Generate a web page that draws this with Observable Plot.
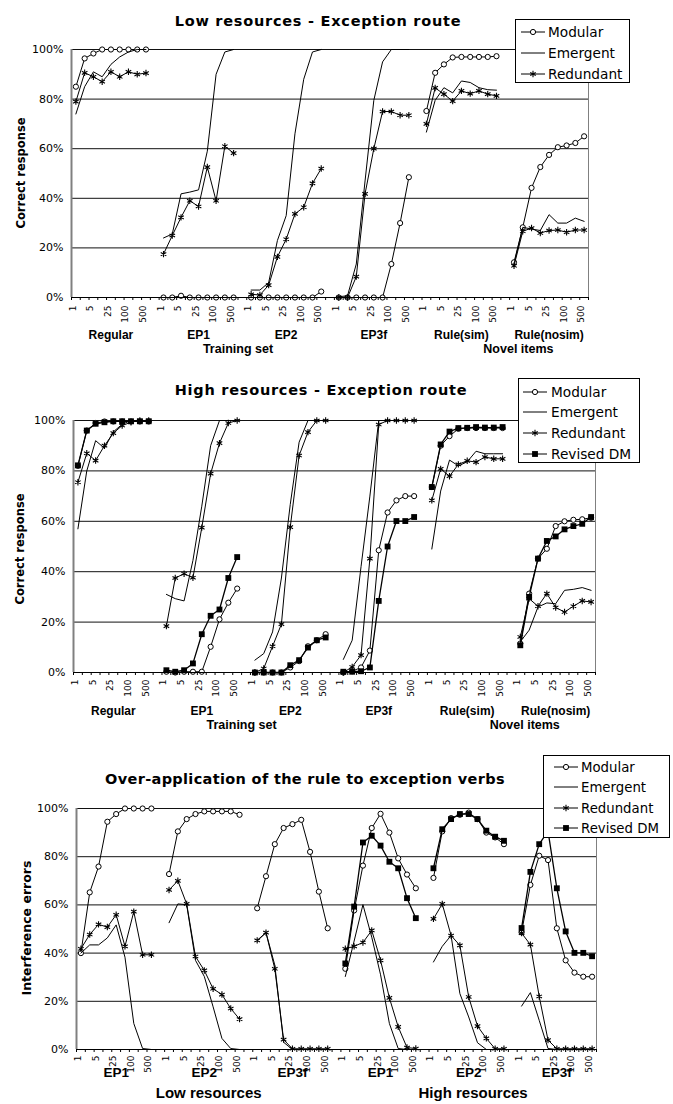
<!DOCTYPE html>
<html><head><meta charset="utf-8">
<script src="https://cdn.jsdelivr.net/npm/d3@7"></script>
<script src="https://cdn.jsdelivr.net/npm/@observablehq/plot@0.6"></script>
<style>
body{margin:0;background:#fff;}
#wrap{position:relative;width:673px;height:1104px;overflow:hidden;font-family:"DejaVu Sans",Verdana,sans-serif;color:#000;}
#wrap svg.p{position:absolute;left:0;}
.title{position:absolute;font-weight:bold;font-size:14.5px;white-space:nowrap;transform:translate(-50%,-50%);}
.ytitle{position:absolute;font-weight:bold;font-size:11.5px;white-space:nowrap;transform:translate(-50%,-50%) rotate(-90deg);}
.legend{position:absolute;}
</style></head><body><div id="wrap"></div><script>
// ---------- categories ----------
const epochs = ["1","2","5","10","25","50","100","250","500"];
const tickLabels = ["1","5","25","100","500"];
const groupsRoute = ["Regular","EP1","EP2","EP3f","Rule(sim)","Rule(nosim)"];
const supersRoute = ["Training set","Novel items"];
const groupsOver = ["EP1","EP2","EP3f","EP1","EP2","EP3f"];
const supersOver = ["Low resources","High resources"];
const seriesNames = ["Modular","Emergent","Redundant","Revised DM"];
const titles = ["Low resources - Exception route","High resources - Exception route","Over-application of the rule to exception verbs"];
const yTitles = ["Correct response","Correct response","Interference errors"];

// ---------- Panel 1: Low resources - Exception route (%) ----------
const lowModular = [85,96.4,98.4,100,100,100,100,100,100, 0,0,0.7,0,0,0,0,0,0, 0,0,0,0,0,0,0,0,2.4, 0,0,0,0,0,0,13.5,30,48.5, 75.2,90.6,94,96.8,97,97,97,97,97.3, 14.2,28.3,44.2,52.6,57.5,60.6,61.3,62.3,65];
const lowEmergent = [74,85,91,89,94,97,99,100,100, 24,25.6,41.8,42.5,43.4,59,90,99,100, 3,3,6,23,33,66,88,99,100, 0.3,0.7,13.5,47,79.5,95,100,100,100, 66.7,79.5,84.6,82.5,87.3,86.7,84.6,83.8,83.6, 13.5,28.3,27.6,27,33.4,30,30,32,30.7];
const lowRedundant = [79,90.6,89,87,91,89,91,90,90.5, 17.5,25,32.3,39,36.7,52.6,39,61,58.2, 1.3,1,5,16.4,23.5,33.7,36.4,46,52, 0,0,8.4,41.8,60,75,75,73.5,73.5, 70,84.5,82,79.2,83.3,82.2,83.3,82,81.3, 12.8,26.7,28,26,27,27.2,26.3,27.2,27.2];

// ---------- Panel 2: High resources - Exception route (%) ----------
const highModular = [82,96,99,99.6,99.6,99.6,99.6,99.6,99.6, 0.3,0,0.3,0.3,0.3,10.2,21.1,27.7,33.3, 0,0,0,0,2,4.5,10.4,12.8,15.2, 0,0.5,2,8.7,48.5,63.5,68.3,70,70, 73.6,90,93.8,96.7,97,97,97,97,97, 11.5,31.3,45.2,49.1,58.1,60,60.6,60.8,61.4];
const highEmergent = [57,80,92,89,95.5,98.5,100,100,100, 31,29.3,28.4,44.5,66,90,100,100,100, 4.9,7.5,16.1,37.5,66.7,91.4,100,100,100, 5.2,12.8,42,70,100,100,100,100,100, 49,72,84.3,82,83.6,87.8,86.8,86.8,86.8, 12.2,16.8,26,27.6,27.3,32.6,33,33.7,32.6];
const highRedundant = [75.5,87,84.1,90,95,98,99.3,100,100, 18.4,37.5,39.2,37.6,57.5,78.9,91,99,100, 0,1.6,10.4,19.2,57.7,86.1,95.4,100,100, 0,2.2,6.9,45.2,98.4,100,100,100,100, 68.3,80.8,77.9,82.6,84,83.5,85.5,84.8,84.8, 14.1,29.3,26.3,31.3,25.8,24,26.3,28.4,28];
const highRevised = [82.2,96,98.7,99.3,99.7,99.7,99.7,99.7,99.7, 0.9,0.3,0.9,3.6,15.2,22.5,25,37.5,45.8, 0,0,0,0,2.9,4.9,9.9,12.8,13.9, 0.3,0.3,0.5,2,28.4,50,60.1,60.1,61.7, 73.6,90.5,95.6,97,97.1,97.4,97.2,97.2,97.4, 10.8,30,45.2,52.2,54,56.8,58.1,59,61.7];

// ---------- Panel 3: Over-application of the rule (%) ----------
const overModular = [40,65.2,75.9,94.5,97.7,100,100,100,100, 72.8,90.5,95.6,97.7,98.8,98.8,98.8,98.8,97.4, 58.6,71.9,85.2,91.9,93.5,95.3,82,65.5,50.3, 33.5,57.7,76.3,91.9,97.8,90,79.3,72.6,66.9, 71.2,90.5,96,97.4,98.3,95.6,90,88,85.2, 48.6,68.3,80.4,78.6,50.3,37,31.9,30.2,30.2];
const overEmergent = [40,43.4,43.4,46.3,51.7,38.3,10.8,0.4,0, 52.6,60.4,60.1,37,30.3,17.7,4.6,0.4,0, 45,48.5,35,3,0,0,0,0,0, 30.3,45,60.1,46.6,31,10.8,0.4,0,0, 36.3,42.8,47.3,23.2,13.5,2.8,0,0,0, 18,23.6,12.1,0.4,0,0,0,0,0];
const overRedundant = [41.8,47.7,51.9,50.8,55.9,42.8,57.2,39.3,39.3, 66.2,70,60.4,38.6,32.8,25.2,22.8,17,12.6, 45.3,48.5,33.5,4.1,0.3,0.3,0.3,0.3,0.3, 41.8,42.8,44.4,49.4,37,21.4,9.4,0.8,0.4, 54.2,60.4,47.3,43.2,21.8,9.7,4.6,0.3,0.3, 48.3,43.5,22,3.9,0.3,0.3,0.3,0.3,0.3];
const overRevised = [null,null,null,null,null,null,null,null,null, null,null,null,null,null,null,null,null,null, null,null,null,null,null,null,null,null,null, 35.7,59.3,85.9,88.7,84.6,77.9,75.2,62.8,54.5, 75.2,91.4,95.6,97.7,97.7,95.6,90.8,88.3,86.6, 50.4,73.7,85.2,90.6,66.9,49,40.1,40.1,38.7];

// ---------- helpers ----------
const W = 673;
function toRows(name, vals) {
  const rows = [];
  vals.forEach((v, k) => {
    if (v == null) return;
    const g = Math.floor(k / epochs.length), j = k % epochs.length;
    rows.push({series: name, group: g, epoch: epochs[j], slot: g * 10 + j + 0.5, v: v / 100});
  });
  return rows;
}
const symR = {Modular: 2.6, Redundant: 3, "Revised DM": 3.3};
function seriesMarks(name, rows) {
  const m = [Plot.line(rows, {x: "slot", y: "v", z: "group", stroke: "#000", strokeWidth: name === "Revised DM" ? 1.3 : 1})];
  if (name === "Modular") m.push(Plot.dot(rows, {x: "slot", y: "v", r: symR.Modular, stroke: "#000", fill: "#fff", strokeWidth: 1}));
  if (name === "Redundant") m.push(Plot.dot(rows, {x: "slot", y: "v", r: symR.Redundant, symbol: "asterisk", stroke: "#000", strokeWidth: 1.1}));
  if (name === "Revised DM") m.push(Plot.dot(rows, {x: "slot", y: "v", r: symR["Revised DM"], symbol: "square", fill: "#000", stroke: "none"}));
  return m;
}

function panel(o) {
  const labelRows = [];
  for (let g = 0; g < 6; g++) tickLabels.forEach((t, m) => labelRows.push({slot: g * 10 + m * 2 + 0.5, t}));
  const marks = [
    Plot.ruleY([0.2, 0.4, 0.6, 0.8, 1], {stroke: "#111", strokeWidth: 1}),
    Plot.ruleX([59], {stroke: "#808080", strokeWidth: 1}),
    Plot.axisY({ticks: [0, .2, .4, .6, .8, 1], tickFormat: d3.format(".0%"), tickSize: 0, tickPadding: 8, label: null}),
    Plot.axisX({ticks: d3.range(0, 60), tickSize: 3, tickFormat: () => "", label: null}),
    Plot.text(labelRows, {x: "slot", text: "t", frameAnchor: "bottom", rotate: -90, textAnchor: "end", dy: o.tickDy, fontSize: 9}),
    Plot.text(o.groups, {x: (d, i) => i * 10 + 4.5, text: d => d, frameAnchor: "bottom", dy: o.groupDy, fontWeight: "bold", fontSize: o.groupFont, fontFamily: "Liberation Sans, Arial, sans-serif"}),
    Plot.text(o.supers, {x: (d, i) => o.superSlots[i], text: d => d, frameAnchor: "bottom", dy: o.superDy, fontWeight: "bold", fontSize: o.superFont, fontFamily: "Liberation Sans, Arial, sans-serif"})
  ];
  o.series.forEach(([name, vals]) => marks.push(...seriesMarks(name, toRows(name, vals))));
  marks.push(Plot.ruleX([0], {stroke: "#808080", strokeWidth: 2}), Plot.ruleY([0], {stroke: "#000", strokeWidth: 1}));
  const svg = Plot.plot({
    width: W, height: o.height,
    marginLeft: o.ml, marginRight: o.mr, marginTop: o.mt, marginBottom: o.mb,
    x: {domain: [0, 59], axis: null},
    y: {domain: [0, 1], axis: null},
    style: {fontFamily: "DejaVu Sans, Verdana, sans-serif", fontSize: "11px", color: "#000", overflow: "visible", background: "transparent"},
    marks
  });
  svg.classList.add("p");
  svg.style.top = o.top + "px";
  return svg;
}

function legend(o) {
  const svg = d3.create("svg").attr("class", "legend").attr("width", o.w).attr("height", o.h)
    .style("left", o.left + "px").style("top", o.top + "px");
  svg.append("rect").attr("x", 0.5).attr("y", 0.5).attr("width", o.w - 1).attr("height", o.h - 1).attr("fill", "#fff").attr("stroke", "#000");
  o.names.forEach((n, i) => {
    const y = o.rows[i];
    svg.append("line").attr("x1", o.s0).attr("x2", o.s1).attr("y1", y).attr("y2", y).attr("stroke", "#000");
    const cx = (o.s0 + o.s1) / 2;
    if (n === "Modular") svg.append("circle").attr("cx", cx).attr("cy", y).attr("r", symR.Modular).attr("fill", "#fff").attr("stroke", "#000");
    if (n === "Redundant") svg.append("path").attr("transform", `translate(${cx},${y})`).attr("d", d3.symbol(d3.symbolAsterisk, Math.PI * symR.Redundant ** 2)()).attr("stroke", "#000").attr("fill", "none").attr("stroke-width", 1.1);
    if (n === "Revised DM") svg.append("path").attr("transform", `translate(${cx},${y})`).attr("d", d3.symbol(d3.symbolSquare, Math.PI * symR["Revised DM"] ** 2)()).attr("fill", "#000");
    svg.append("text").attr("x", o.tx).attr("y", y).attr("dy", "0.35em").attr("font-size", o.fs).attr("font-family", "DejaVu Sans, Verdana, sans-serif").text(n);
  });
  return svg.node();
}

function addText(cls, txt, x, y, extra) {
  const d = document.createElement("div");
  d.className = cls; d.textContent = txt;
  d.style.left = x + "px"; d.style.top = y + "px";
  Object.assign(d.style, extra || {});
  wrap.appendChild(d);
}

const wrap = document.getElementById("wrap");
wrap.appendChild(panel({top: 0, height: 365, ml: 71, mr: W - 588, mt: 49, mb: 365 - 297,
  groups: groupsRoute, supers: supersRoute, superSlots: [19, 51], tickDy: 8, groupDy: 41, superDy: 55, groupFont: 12, superFont: 12.5,
  series: [["Modular", lowModular], ["Emergent", lowEmergent], ["Redundant", lowRedundant]]}));
wrap.appendChild(panel({top: 365, height: 367, ml: 73, mr: W - 595, mt: 420 - 365, mb: 732 - 672,
  groups: groupsRoute, supers: supersRoute, superSlots: [19, 51], tickDy: 7, groupDy: 42, superDy: 56, groupFont: 12, superFont: 12.5,
  series: [["Modular", highModular], ["Emergent", highEmergent], ["Redundant", highRedundant], ["Revised DM", highRevised]]}));
wrap.appendChild(panel({top: 732, height: 372, ml: 76, mr: W - 596, mt: 808 - 732, mb: 1104 - 1049,
  groups: groupsOver, supers: supersOver, superSlots: [15, 45], tickDy: 6, groupDy: 27, superDy: 48, groupFont: 13.5, superFont: 15,
  series: [["Modular", overModular], ["Emergent", overEmergent], ["Redundant", overRedundant], ["Revised DM", overRevised]]}));

addText("title", titles[0], 318, 21, {letterSpacing: "0.75px"});
addText("title", titles[1], 321, 390, {letterSpacing: "0.75px"});
addText("title", titles[2], 305, 779, {letterSpacing: "0.33px"});
addText("ytitle", yTitles[0], 21, 173);
addText("ytitle", yTitles[1], 20, 549);
addText("ytitle", yTitles[2], 26, 928, {fontSize: "12.5px"});

wrap.appendChild(legend({left: 515, top: 19, w: 115, h: 64, names: seriesNames.slice(0, 3), rows: [13, 34, 55], s0: 6, s1: 30, tx: 33, fs: 13.7}));
wrap.appendChild(legend({left: 518, top: 378, w: 122, h: 85, names: seriesNames, rows: [14, 34, 55, 76], s0: 5, s1: 29, tx: 33, fs: 13.7}));
wrap.appendChild(legend({left: 543, top: 755, w: 127, h: 83, names: seriesNames, rows: [12, 32, 53, 73], s0: 11, s1: 35, tx: 38, fs: 13.3}));
</script></body></html>
